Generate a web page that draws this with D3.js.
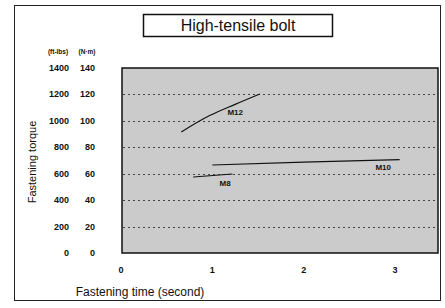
<!DOCTYPE html>
<html><head><meta charset="utf-8">
<script src="https://cdn.jsdelivr.net/npm/d3@7"></script>
<style>body{margin:0;background:#fff;}svg{display:block;font-family:Arial,"Liberation Sans",sans-serif;}</style>
</head><body>
<svg id="c" width="445" height="308"></svg>
<script>
const title = "High-tensile bolt";
const yTicksFtLbs = [0, 200, 400, 600, 800, 1000, 1200, 1400];
const yTicksNm = [0, 20, 40, 60, 80, 100, 120, 140];
const xTicks = [0, 1, 2, 3];
const gridValues = [200, 400, 600, 800, 1000, 1200];
const seriesNames = ["M12", "M10", "M8"];
const m12 = [[0.66, 916], [0.97, 1040], [1.25, 1125], [1.52, 1203]];
const m10 = [[1.0, 666], [2.0, 688], [3.05, 706]];
const m8 = [[0.79, 575], [1.22, 598]];
const labelPos = [[1.25, 1067], [2.87, 651], [1.14, 530]];

const svg = d3.select("#c");
const x = d3.scaleLinear().domain([0, 3.47]).range([121, 438]);
const y = d3.scaleLinear().domain([0, 1400]).range([253, 68]);

// outer frame
svg.append("rect").attr("x", 14.5).attr("y", 5.5).attr("width", 426).attr("height", 295)
  .attr("fill", "none").attr("stroke", "#222").attr("stroke-width", 1);

// title box
svg.append("rect").attr("x", 143.5).attr("y", 14.5).attr("width", 189).attr("height", 22)
  .attr("fill", "#fff").attr("stroke", "#111").attr("stroke-width", 1.5);
svg.append("text").attr("x", 238).attr("y", 31).attr("text-anchor", "middle")
  .attr("font-size", 16).attr("fill", "#111").text(title);

// plot background
svg.append("rect").attr("x", x(0) + 1).attr("y", y(1400)).attr("width", x(3.47) - x(0) - 1)
  .attr("height", y(0) - y(1400)).attr("fill", "#cbcbcb")
  .attr("stroke", "#111").attr("stroke-width", 1.5);

// grid
svg.append("g").selectAll("line").data(gridValues).join("line")
  .attr("x1", x(0) + 2).attr("x2", x(3.47) - 2)
  .attr("y1", d => Math.round(y(d)) + 0.5).attr("y2", d => Math.round(y(d)) + 0.5)
  .attr("stroke", "#444").attr("stroke-width", 1).attr("stroke-dasharray", "2,3");

// y labels
const yl = svg.append("g").attr("font-size", 9).attr("fill", "#111").attr("font-weight", "bold");
yl.selectAll("text.a").data(yTicksFtLbs).join("text").attr("class", "a")
  .attr("x", 69).attr("y", d => y(d) + 3).attr("text-anchor", "end").text(d => d);
yl.selectAll("text.b").data(yTicksNm).join("text").attr("class", "b")
  .attr("x", 95).attr("y", (d, i) => y(yTicksFtLbs[i]) + 3).attr("text-anchor", "end").text(d => d);
svg.append("text").attr("x", 58).attr("y", 54).attr("text-anchor", "middle").attr("font-size", 6.5)
  .attr("font-weight", "bold").attr("fill", "#111").text("(ft-lbs)");
svg.append("text").attr("x", 87).attr("y", 54).attr("text-anchor", "middle").attr("font-size", 6.5)
  .attr("font-weight", "bold").attr("fill", "#111").text("(N·m)");

// x labels
svg.append("g").attr("font-size", 9).attr("fill", "#111").attr("font-weight", "bold")
  .selectAll("text").data(xTicks).join("text")
  .attr("x", d => x(d)).attr("y", 273).attr("text-anchor", "middle").text(d => d);

svg.append("text").attr("x", 140).attr("y", 296).attr("text-anchor", "middle")
  .attr("font-size", 12).attr("fill", "#111").text("Fastening time (second)");
svg.append("text").attr("transform", "translate(36,162) rotate(-90)").attr("text-anchor", "middle")
  .attr("font-size", 11).attr("fill", "#111").text("Fastening torque");

// lines
const line = d3.line().x(d => x(d[0])).y(d => y(d[1])).curve(d3.curveMonotoneX);
[m12, m10, m8].forEach(s => {
  svg.append("path").attr("d", line(s)).attr("fill", "none").attr("stroke", "#111").attr("stroke-width", 1.2);
});
svg.append("g").attr("font-size", 8).attr("font-weight", "bold").attr("fill", "#111")
  .selectAll("text").data(seriesNames).join("text")
  .attr("x", (d, i) => x(labelPos[i][0])).attr("y", (d, i) => y(labelPos[i][1]) + 3)
  .attr("text-anchor", "middle").text(d => d);
</script>
</body></html>
